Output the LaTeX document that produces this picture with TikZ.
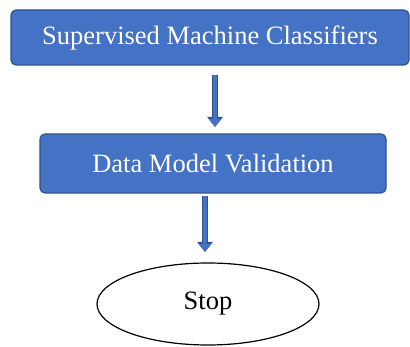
\documentclass[tikz,border=0pt]{standalone}
\usepackage{fontspec}
\setmainfont{Liberation Serif}
\usetikzlibrary{shapes.geometric,arrows.meta}
\definecolor{cajaazul}{HTML}{4472C4}
\definecolor{bordeazul}{HTML}{2F528F}

\begin{document}
\begin{tikzpicture}[x=1pt, y=-1pt,
        every node/.style={font=\fontsize{26.5}{30}\selectfont},
        paso/.style={draw=bordeazul, line width=1.2pt, fill=cajaazul, text=white, rounded corners=5pt, inner sep=0pt},
        fin/.style={draw, ellipse, line width=1.2pt, fill=white, inner sep=0pt},
        flecha/.style={draw=cajaazul, line width=4.5pt, -{Triangle[width=12pt,length=8pt]},
            preaction={draw=bordeazul, line width=6.5pt, -{Triangle[width=15pt,length=10pt]}}}
    ]
    \useasboundingbox (0,0) rectangle (410,347);

    % Pasos
    \node[paso, minimum width=398pt, minimum height=55pt] (clasificadores) at (210,37.5) {Supervised Machine Classifiers};
    \node[paso, minimum width=346pt, minimum height=59pt] (validacion) at (213,163.5) {Data Model Validation};

    % Fin
    \node[fin, minimum width=222pt, minimum height=82pt] (parar) at (208,304) {Stop};

    % Puntos de las flechas
    \coordinate (f1a) at (215,75);
    \coordinate (f1b) at (215,127);
    \coordinate (f2a) at (205,196);
    \coordinate (f2b) at (205,252);

    % Flechas
    \draw[flecha] (f1a) -- (f1b);
    \draw[flecha] (f2a) -- (f2b);
\end{tikzpicture}
\end{document}
